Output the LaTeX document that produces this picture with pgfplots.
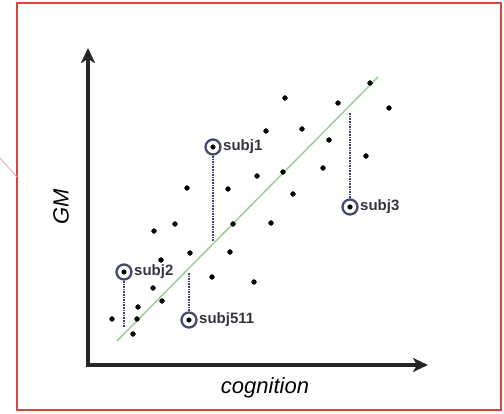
\documentclass[border=0pt]{standalone}
\usepackage{pgfplots}
\pgfplotsset{compat=1.18}
\usepackage{pgfplotstable}
\usepackage{fontspec}
\setmainfont{Liberation Sans}
\usetikzlibrary{arrows.meta}

\definecolor{frame}{HTML}{D6453F}
\definecolor{leader}{HTML}{EBB0B0}
\definecolor{fitline}{HTML}{9CCF98}
\definecolor{subjring}{HTML}{454A6C}
\definecolor{residual}{HTML}{3A4678}
\definecolor{subjtext}{HTML}{34343F}

% regular subjects (cognition, GM)
\pgfplotstableread{
x y
197 267
178 234
169 189
195 193
99 177
140 176
205 171
282 282
250 262
301 257
214 236
241 225
278 209
235 197
183 142
87 141
145 141
66 134
102 112
142 113
73 105
124 88
166 83
65 77
74 64
50 58
24 46
49 46
45 31
}\subjects

% highlighted subjects
\pgfplotstableread{
x y label
125 218 subj1
36 93 subj2
101 45 subj511
262 158 subj3
}\outliers

\begin{document}
\begin{tikzpicture}
\useasboundingbox (-88pt,-48pt) rectangle (416pt,365pt);
\draw[frame, line width=2.8pt] (-71pt,-45pt) rectangle (413pt,362pt);
\draw[leader, line width=1pt] (-88pt,207pt) -- (-71pt,188pt);
\begin{axis}[
  scale only axis,
  width=340pt, height=317pt,
  xmin=0, xmax=340, ymin=0, ymax=317,
  hide axis,
  clip=false,
]
% axes with arrow heads
\draw[line width=3.4pt, black!85, line join=miter,
  {Stealth[length=15pt,width=14pt,inset=4pt]}-{Stealth[length=15pt,width=14pt,inset=4pt]}]
  (axis cs:0,317) -- (axis cs:0,0) -- (axis cs:340,0);
\node[font=\fontsize{22}{26}\selectfont\itshape] at (axis cs:177,-23) {cognition};
\node[font=\fontsize{22}{26}\selectfont\itshape, rotate=90] at (axis cs:-27,158) {GM};

% fitted regression line
\addplot[fitline, line width=1.5pt] coordinates {(29,24) (290,288)};

% residuals of the highlighted subjects
\addplot[residual, line width=1.9pt, dash pattern=on 1.6pt off 1pt]
  coordinates {(125,209) (125,124)};
\addplot[residual, line width=1.9pt, dash pattern=on 1.6pt off 1pt]
  coordinates {(36,84) (36,38)};
\addplot[residual, line width=1.9pt, dash pattern=on 1.6pt off 1pt]
  coordinates {(101,54) (101,92)};
\addplot[residual, line width=1.9pt, dash pattern=on 1.6pt off 1pt]
  coordinates {(262,167) (262,252)};

% all other subjects
\addplot[only marks, mark=*, mark size=2.4pt, black] table[x=x,y=y]{\subjects};

% highlighted subjects: ring, centre dot and name
\addplot[only marks, mark=o, mark size=7.5pt,
  mark options={line width=2.3pt, draw=subjring}]
  table[x=x,y=y]{\outliers};
\addplot[only marks, mark=*, mark size=2.3pt, black,
  nodes near coords, point meta=explicit symbolic,
  nodes near coords style={anchor=west, xshift=9pt, inner sep=1pt,
    font=\fontsize{15}{17}\selectfont\bfseries, text=subjtext}]
  table[x=x,y=y,meta=label]{\outliers};
\end{axis}
\end{tikzpicture}
\end{document}
